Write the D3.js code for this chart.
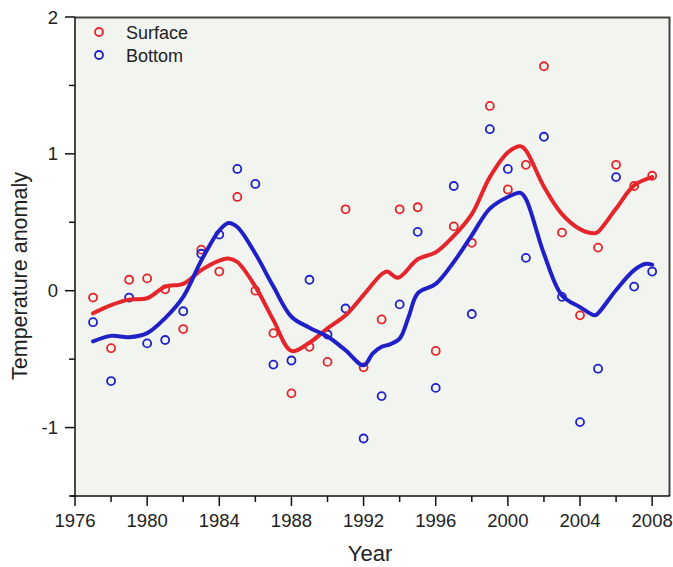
<!DOCTYPE html>
<html><head><meta charset="utf-8">
<script src="https://cdn.jsdelivr.net/npm/d3@7"></script>
<style>body{margin:0;background:#fff}svg{display:block}text{font-family:Arial,"Liberation Sans",sans-serif;fill:#222}</style>
</head><body><div id="chart"></div>
<script>
const years = d3.range(1977, 2009);
const surface = [-0.05,-0.42,0.08,0.09,0.01,-0.28,0.30,0.14,0.685,0.00,-0.31,-0.75,-0.41,-0.52,0.595,-0.56,-0.21,0.595,0.61,-0.44,0.47,0.35,1.35,0.74,0.92,1.64,0.425,-0.18,0.315,0.92,0.765,0.84];
const bottom = [-0.23,-0.66,-0.05,-0.385,-0.36,-0.15,0.27,0.41,0.89,0.78,-0.54,-0.51,0.08,-0.32,-0.13,-1.08,-0.77,-0.10,0.43,-0.71,0.765,-0.17,1.18,0.89,0.24,1.125,-0.045,-0.96,-0.57,0.83,0.03,0.14];
const surfSmoothX = [1977,1978,1979,1980,1981,1982,1983,1984,1984.5,1985,1986,1987,1988,1989,1990,1991,1992,1993,1993.3,1993.9,1995,1996,1997,1998,1999,2000,2000.7,2001,2002,2003,2004,2004.8,2005,2006,2007,2008];
const surfSmoothY = [-0.165,-0.105,-0.065,-0.055,0.03,0.05,0.15,0.22,0.235,0.21,0.03,-0.215,-0.44,-0.38,-0.275,-0.18,-0.03,0.12,0.14,0.095,0.23,0.28,0.40,0.56,0.83,1.01,1.055,1.025,0.76,0.56,0.45,0.42,0.43,0.60,0.77,0.83];
const botSmoothX = [1977,1978,1979,1980,1981,1982,1983,1984,1984.5,1985,1986,1987,1988,1989,1990,1991,1992,1992.5,1993,1993.5,1994,1994.5,1995,1996,1997,1998,1999,2000,2000.7,2001,2002,2003,2004,2004.8,2005,2006,2007,2007.6,2008];
const botSmoothY = [-0.37,-0.33,-0.34,-0.31,-0.20,-0.045,0.22,0.44,0.495,0.465,0.27,0.03,-0.19,-0.27,-0.335,-0.435,-0.545,-0.46,-0.41,-0.39,-0.35,-0.19,-0.02,0.05,0.21,0.405,0.60,0.685,0.715,0.67,0.27,-0.035,-0.12,-0.18,-0.165,0.005,0.15,0.195,0.19];
const yTicks = [-1,0,1,2];
const xTicks = [1976,1980,1984,1988,1992,1996,2000,2004,2008];
const seriesNames = ["Surface","Bottom"];
const colors = ["#e5252a","#2020c8"];

const W=673,H=567;
const svg=d3.select("#chart").append("svg").attr("width",W).attr("height",H);
const x=d3.scaleLinear().domain([1976,2009]).range([75,670.2]);
const y=d3.scaleLinear().domain([-1.5,2]).range([496,17]);

svg.append("rect").attr("x",75).attr("y",17).attr("width",670-75).attr("height",496-17).attr("fill","#f1f4ef");
svg.append("path").attr("d",`M75,17.5H669.5V496`).attr("fill","none").attr("stroke","#444").attr("stroke-width",2);

const xAxis=svg.append("g").attr("transform","translate(0,496)");
xAxis.append("line").attr("x1",71).attr("x2",670).attr("y1",0).attr("y2",0).attr("stroke","#111").attr("stroke-width",1.5);
xAxis.selectAll("line.maj").data(d3.range(1976,2009,2)).enter().append("line")
 .attr("x1",d=>x(d)).attr("x2",d=>x(d)).attr("y1",0).attr("y2",d=>(d%4===0)?10:6).attr("stroke","#111").attr("stroke-width",1.5);
xAxis.selectAll("text").data(xTicks).enter().append("text").attr("x",d=>x(d)).attr("y",31).attr("text-anchor","middle").attr("font-size","18.5px").text(d=>d);

const yAxis=svg.append("g").attr("transform","translate(75,0)");
yAxis.append("line").attr("x1",0).attr("x2",0).attr("y1",17).attr("y2",496).attr("stroke","#111").attr("stroke-width",1.5);
yAxis.selectAll("line.t").data([-1.5,-1,-0.5,0,0.5,1,1.5,2]).enter().append("line")
 .attr("x1",d=>Number.isInteger(d)?-10:-6).attr("x2",0).attr("y1",d=>y(d)).attr("y2",d=>y(d)).attr("stroke","#111").attr("stroke-width",1.5);
yAxis.selectAll("text").data(yTicks).enter().append("text").attr("x",-17).attr("y",d=>y(d)+6.5).attr("text-anchor","end").attr("font-size","18.5px").text(d=>d);

svg.append("text").attr("transform","translate(27,276) rotate(-90)").attr("text-anchor","middle").attr("font-size","21.5px").text("Temperature anomaly");
svg.append("text").attr("x",370).attr("y",561).attr("text-anchor","middle").attr("font-size","22px").text("Year");

const line=d3.line().x(d=>x(d[0])).y(d=>y(d[1])).curve(d3.curveCatmullRom.alpha(0.5));
const g=svg.append("g");
[surface,bottom].forEach((vals,i)=>{
  g.selectAll(null).data(vals).enter().append("circle").attr("cx",(d,j)=>x(years[j])).attr("cy",d=>y(d)).attr("r",4)
   .attr("fill","none").attr("stroke",colors[i]).attr("stroke-width",1.8);
});
g.append("path").datum(surfSmoothX.map((d,i)=>[d,surfSmoothY[i]])).attr("d",line).attr("fill","none").attr("stroke",colors[0]).attr("stroke-width",4).attr("stroke-linecap","round");
g.append("path").datum(botSmoothX.map((d,i)=>[d,botSmoothY[i]])).attr("d",line).attr("fill","none").attr("stroke",colors[1]).attr("stroke-width",4).attr("stroke-linecap","round");

const lg=svg.append("g");
seriesNames.forEach((n,i)=>{
  lg.append("circle").attr("cx",99).attr("cy",32+i*23).attr("r",4).attr("fill","none").attr("stroke",colors[i]).attr("stroke-width",1.8);
  lg.append("text").attr("x",126).attr("y",39+i*23).attr("font-size","18px").text(n);
});
</script></body></html>
